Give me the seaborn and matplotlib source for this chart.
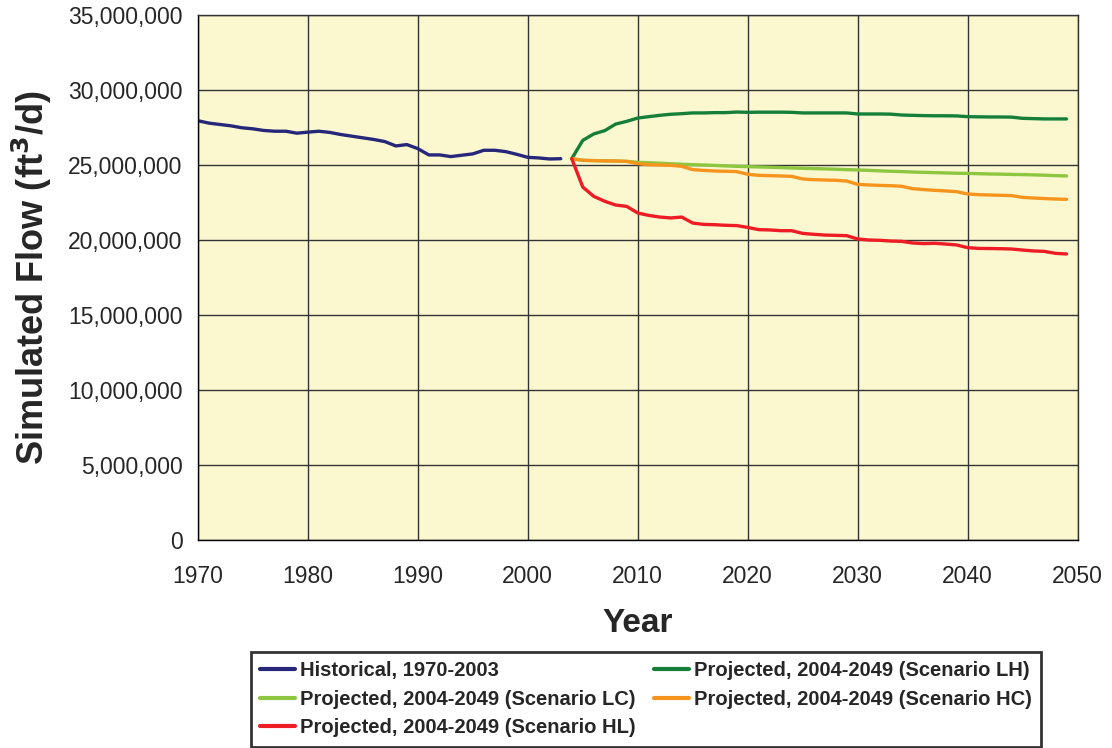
# Simulated flow: historical vs projected scenarios
import numpy as np
import pandas as pd
import matplotlib
matplotlib.use("Agg")
import matplotlib.pyplot as plt
import matplotlib.ticker as mticker
import seaborn as sns

# === Data ===
hist_years = list(range(1970, 2004))
hist_flow = [27.95, 27.79, 27.70, 27.61, 27.48, 27.41, 27.30, 27.25, 27.25, 27.12,
             27.19, 27.25, 27.17, 27.03, 26.92, 26.81, 26.70, 26.56, 26.27, 26.36,
             26.09, 25.67, 25.67, 25.56, 25.65, 25.74, 25.98, 25.98, 25.89, 25.71,
             25.51, 25.47, 25.40, 25.42]

proj_years = list(range(2004, 2050))
lh_flow = [25.42, 26.64, 27.07, 27.29, 27.73, 27.91, 28.13, 28.22, 28.31, 28.38,
           28.42, 28.47, 28.47, 28.49, 28.49, 28.53, 28.51, 28.52, 28.52, 28.52,
           28.51, 28.47, 28.47, 28.47, 28.47, 28.47, 28.40, 28.40, 28.40, 28.39,
           28.33, 28.31, 28.29, 28.28, 28.28, 28.27, 28.22, 28.21, 28.20, 28.20,
           28.19, 28.11, 28.09, 28.07, 28.07, 28.07]
lc_flow = [25.42, 25.31, 25.29, 25.28, 25.26, 25.24, 25.18, 25.15, 25.12, 25.08,
           25.05, 25.02, 25.00, 24.97, 24.94, 24.91, 24.89, 24.87, 24.85, 24.83,
           24.80, 24.78, 24.76, 24.74, 24.72, 24.69, 24.67, 24.64, 24.61, 24.58,
           24.56, 24.53, 24.51, 24.49, 24.47, 24.45, 24.44, 24.42, 24.40, 24.39,
           24.37, 24.36, 24.34, 24.32, 24.29, 24.27]
hc_flow = [25.42, 25.31, 25.29, 25.27, 25.27, 25.24, 25.09, 25.02, 25.00, 24.98,
           24.91, 24.69, 24.64, 24.60, 24.58, 24.56, 24.38, 24.31, 24.29, 24.27,
           24.24, 24.07, 24.02, 24.00, 23.98, 23.93, 23.71, 23.67, 23.64, 23.62,
           23.58, 23.42, 23.36, 23.31, 23.27, 23.22, 23.07, 23.02, 23.00, 22.98,
           22.96, 22.84, 22.80, 22.76, 22.73, 22.71]
hl_flow = [25.42, 23.53, 22.91, 22.58, 22.33, 22.24, 21.80, 21.64, 21.53, 21.47,
           21.53, 21.13, 21.04, 21.02, 20.98, 20.96, 20.84, 20.69, 20.67, 20.62,
           20.62, 20.44, 20.38, 20.33, 20.31, 20.29, 20.07, 20.00, 19.98, 19.93,
           19.91, 19.80, 19.76, 19.78, 19.73, 19.67, 19.49, 19.44, 19.43, 19.42,
           19.40, 19.33, 19.27, 19.24, 19.11, 19.07]

labels = ["Historical, 1970-2003",
          "Projected, 2004-2049 (Scenario LH)",
          "Projected, 2004-2049 (Scenario LC)",
          "Projected, 2004-2049 (Scenario HC)",
          "Projected, 2004-2049 (Scenario HL)"]
colors = ["#27277A", "#157F3A", "#8DC63F", "#F7941D", "#EE1C25"]

# Long-form table for seaborn (flows in ft3/d)
frames = [pd.DataFrame({"year": hist_years, "flow": np.array(hist_flow) * 1e6, "series": labels[0]})]
for lab, vals in zip(labels[1:], [lh_flow, lc_flow, hc_flow, hl_flow]):
    frames.append(pd.DataFrame({"year": proj_years, "flow": np.array(vals) * 1e6, "series": lab}))
df = pd.concat(frames, ignore_index=True)

sns.set_style("white")
plt.rcParams["font.family"] = ["Liberation Sans", "DejaVu Sans"]

fig = plt.figure(figsize=(11.12, 7.48), dpi=100)
ax = fig.add_axes([0.178, 0.278, 0.791, 0.702])
ax.set_facecolor("#FBF8D0")

sns.lineplot(data=df, x="year", y="flow", hue="series", hue_order=labels,
             palette=dict(zip(labels, colors)), linewidth=2.4, ax=ax, legend=False)

ax.set_xlim(1970, 2050)
ax.set_ylim(0, 35e6)
ax.set_xticks(range(1970, 2051, 10))
ax.set_yticks(np.arange(0, 35e6 + 1, 5e6))
ax.yaxis.set_major_formatter(mticker.FuncFormatter(lambda v, p: f"{v:,.0f}"))
ax.grid(True, color="#333333", linewidth=1.0)
ax.set_axisbelow(True)
for s in ax.spines.values():
    s.set_color("#333333")
    s.set_linewidth(1.0)
ax.spines["left"].set_color("black")
ax.spines["bottom"].set_color("black")
ax.tick_params(axis="both", direction="out", length=6, width=1, color="black")
ax.tick_params(axis="y", labelsize=16.5, pad=5)
ax.tick_params(axis="x", labelsize=16.5, pad=12)

ax.set_xlabel("Year", fontsize=24, fontweight="bold", labelpad=14)
ax.set_ylabel("Simulated Flow (ft$^\\mathbf{3}$/d)", fontsize=26, fontweight="bold", labelpad=10)

# Legend: row order Historical, LH / LC, HC / HL
lines = {lab: plt.Line2D([], [], color=c, linewidth=3) for lab, c in zip(labels, colors)}
order = [labels[0], labels[2], labels[4], labels[1], labels[3]]
leg = fig.legend([lines[l] for l in order], order, ncol=2, loc="lower center",
                 bbox_to_anchor=(0.581, 0.002), borderaxespad=0, frameon=True,
                 fancybox=False, prop={"weight": "bold", "size": 14.5},
                 handlelength=1.75, handletextpad=0.25, columnspacing=0.9,
                 labelspacing=0.48, borderpad=0.45)
leg.get_frame().set_edgecolor("black")
leg.get_frame().set_linewidth(2)

fig.savefig("out.png", dpi=100)
